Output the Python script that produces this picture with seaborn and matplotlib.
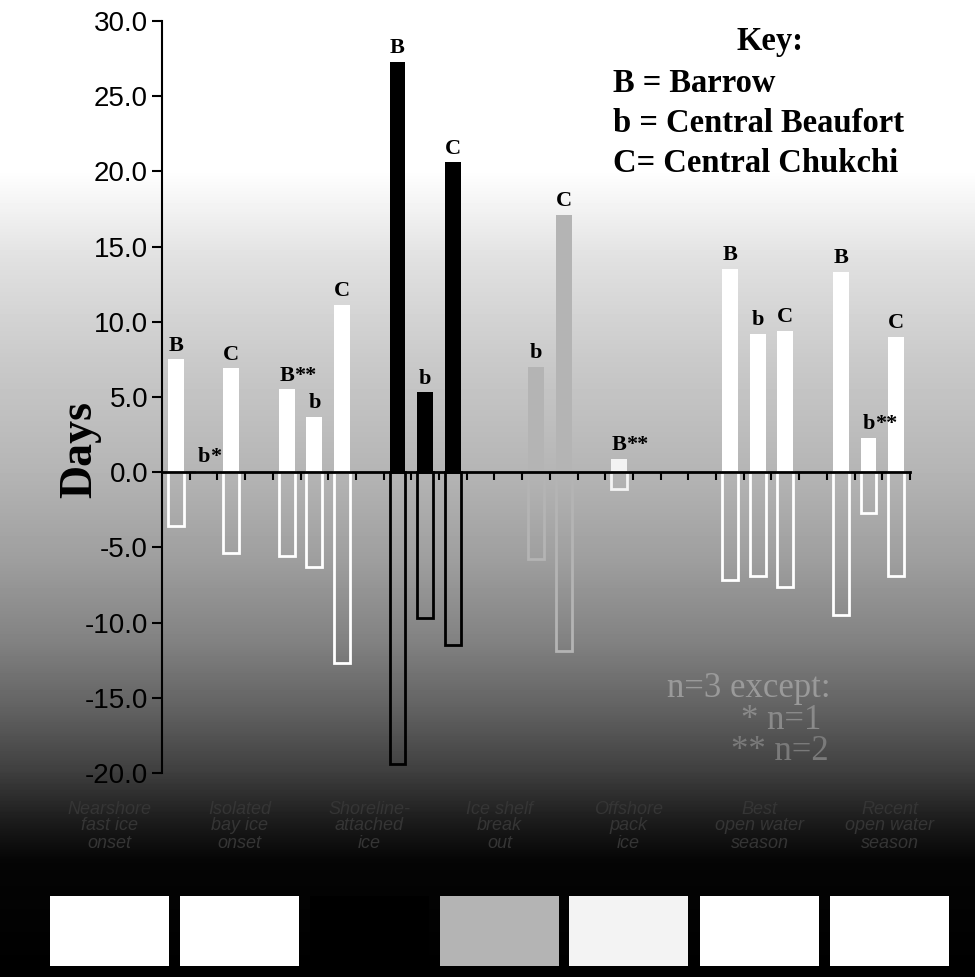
import numpy as np
import pandas as pd
import matplotlib
matplotlib.use("Agg")
import matplotlib.pyplot as plt
import seaborn as sns
from matplotlib.patches import Rectangle

# categories (text under the plot is barely legible in the scan)
categories = ["Nearshore\nfast ice\nonset", "Isolated\nbay ice\nonset", "Shoreline-\nattached\nice", "Ice shelf\nbreak\nout",
              "Offshore\npack\nice", "Best\nopen water\nseason", "Recent\nopen water\nseason"]
group_colors = ["white", "white", "black", "#b4b4b4", "#f3f3f3", "white", "white"]

bar_group = [0, 0, 0, 1, 1, 1, 2, 2, 2, 3, 3, 4, 5, 5, 5, 6, 6, 6]
bar_site = ["B", "b", "C", "B", "b", "C", "B", "b", "C", "b", "C", "B", "B", "b", "C", "B", "b", "C"]
bar_note = ["", "*", "", "**", "", "", "", "", "", "", "", "**", "", "", "", "", "**", ""]
days_pos = [7.5, 0.1, 6.9, 5.5, 3.7, 11.1, 27.3, 5.3, 20.6, 7.0, 17.1, 0.9, 13.5, 9.2, 9.4, 13.3, 2.3, 9.0]
days_neg = [-3.6, 0.0, -5.4, -5.6, -6.3, -12.7, -19.4, -9.7, -11.5, -5.8, -11.9, -1.1, -7.2, -6.9, -7.6, -9.5, -2.7, -6.9]

site_offset = {"B": 0, "b": 1, "C": 2}
slots = [4 * g + site_offset[s] for g, s in zip(bar_group, bar_site)]

df = pd.DataFrame({
    "slot": slots,
    "group": [categories[g] for g in bar_group],
    "pos": days_pos,
    "neg": days_neg,
})
pal = dict(zip(categories, group_colors))

serif = "Liberation Serif"
sans = "Liberation Sans"

fig = plt.figure(figsize=(9.75, 9.77), dpi=100)

# scanned background: white at top fading to black at the bottom
bg = fig.add_axes([0, 0, 1, 1], zorder=0)
stops_y = [0, 170, 260, 360, 470, 560, 640, 710, 770, 820, 860, 977]
stops_v = [1.0, 1.0, 0.88, 0.79, 0.71, 0.62, 0.51, 0.38, 0.25, 0.11, 0.02, 0.0]
grad = np.interp(np.arange(977), stops_y, stops_v)[:, None]
bg.imshow(grad, cmap="gray", vmin=0, vmax=1, aspect="auto", extent=[0, 1, 0, 1])
bg.set_axis_off()

ax = fig.add_axes([162 / 975, 1 - 773 / 977, (910 - 162) / 975, (773 - 21) / 977], zorder=1)
ax.set_facecolor("none")

sns.barplot(data=df, x="slot", y="pos", hue="group", hue_order=categories, palette=pal,
            native_scale=True, dodge=False, width=0.57, saturation=1, errorbar=None,
            legend=False, linewidth=0, ax=ax)
sns.barplot(data=df, x="slot", y="neg", hue="group", hue_order=categories, palette=pal,
            native_scale=True, dodge=False, width=0.57, saturation=1, errorbar=None,
            legend=False, fill=False, linewidth=2, ax=ax)

ax.set_xlim(-0.5, 26.5)
ax.set_ylim(-20, 30)
ax.set_yticks(np.arange(-20, 31, 5))
ax.set_yticklabels([f"{v:.1f}" for v in np.arange(-20, 31, 5)], fontsize=20, family=sans)
ax.set_xticks(np.arange(0.5, 27, 1))
ax.tick_params(axis="x", direction="out", length=6, width=1.5, labelbottom=False)
ax.tick_params(axis="y", direction="out", length=7, width=1.5, pad=3)
ax.set_xlabel("")
ax.set_ylabel("")
for s in ["top", "right"]:
    ax.spines[s].set_visible(False)
ax.spines["bottom"].set_position(("data", 0))
ax.spines["bottom"].set_linewidth(2)
ax.spines["left"].set_linewidth(1.5)

# site letters above each bar
for x, y, site, note in zip(slots, days_pos, bar_site, bar_note):
    ax.text(x, y + 0.25, site, ha="center", va="bottom", fontsize=16, fontweight="bold", family=serif)
    if note:
        ax.annotate(note, xy=(x, y + 0.25), xytext=(5, 0), textcoords="offset points",
                    ha="left", va="bottom", fontsize=16, fontweight="bold", family=serif)

# key
fig.text(770 / 975, 1 - 50 / 977, "Key:", ha="center", va="baseline", fontsize=23.5, fontweight="bold", family=serif)
key_lines = ["B = Barrow", "b = Central Beaufort", "C= Central Chukchi"]
for i, line in enumerate(key_lines):
    fig.text(613 / 975, 1 - (92 + 40 * i) / 977, line, ha="left", va="baseline",
             fontsize=23.5, fontweight="bold", family=serif)

# sample size note
fig.text(749 / 975, 1 - 697 / 977, "n=3 except:", ha="center", va="baseline", fontsize=25, color="#9a9a9a", family=serif)
fig.text(781 / 975, 1 - 729 / 977, "* n=1", ha="center", va="baseline", fontsize=25, color="#8a8a8a", family=serif)
fig.text(780 / 975, 1 - 760 / 977, "** n=2", ha="center", va="baseline", fontsize=25, color="#7a7a7a", family=serif)

fig.text(80 / 975, 1 - 450 / 977, "Days", rotation=90, ha="center", va="center", fontsize=33,
         fontweight="bold", family=serif)

# category captions and colour swatches along the bottom
sw_x = [50, 180, 310, 440, 569, 700, 830]
sw_w = 119
for cat, col, x0 in zip(categories, group_colors, sw_x):
    fig.text((x0 + sw_w / 2) / 975, 1 - 826 / 977, cat, ha="center", va="center", fontsize=13,
             style="italic", color="#353535", family=sans, linespacing=1.0)
    fig.add_artist(Rectangle((x0 / 975, 1 - 966 / 977), sw_w / 975, 70 / 977,
                             transform=fig.transFigure, facecolor=col, edgecolor="none"))

fig.savefig("out.png", dpi=100)
